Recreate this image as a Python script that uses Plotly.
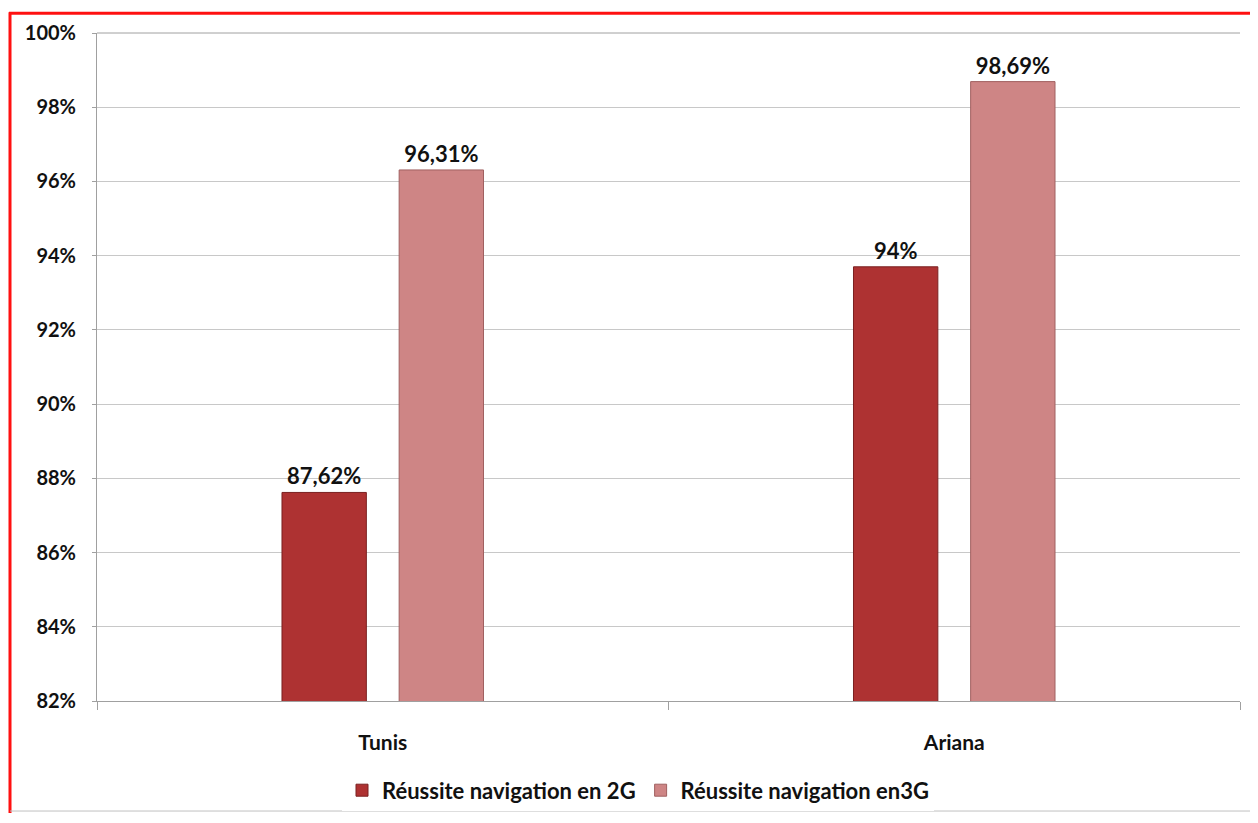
import plotly.graph_objects as go

categories = ["Tunis", "Ariana"]
series_names = ["Réussite navigation en 2G", "Réussite navigation en3G"]
values_2g = [87.62, 93.7]
values_3g = [96.31, 98.69]
labels_2g = ["87,62%", "94%"]
labels_3g = ["96,31%", "98,69%"]
y_ticks = [82, 84, 86, 88, 90, 92, 94, 96, 98, 100]
y_tick_text = [f"{v}%" for v in y_ticks]

OFF = 8  # page body margin
W, H = 1258 - OFF, 823 - OFF
PL, PR, PT, PB = 97, 1240, 29, 709  # plot area in page pixels
L, R, T, B = PL - OFF, 1258 - PR, PT - OFF, 823 - PB
pw, ph = PR - PL, PB - PT

def px(x):
    return (x - PL) / pw

def py(y):
    return (PB - y) / ph

FONT = "Lato, 'Open Sans', Arial, sans-serif"

fig = go.Figure()
fig.add_trace(go.Bar(
    x=categories, y=values_2g, name=series_names[0],
    text=labels_2g, textposition="outside", cliponaxis=False,
    textfont=dict(size=22, color="#111111", family=FONT, weight="bold"),
    marker=dict(color="#AE3232", line=dict(color="#7A2020", width=1)),
))
fig.add_trace(go.Bar(
    x=categories, y=values_3g, name=series_names[1],
    text=labels_3g, textposition="outside", cliponaxis=False,
    textfont=dict(size=22, color="#111111", family=FONT, weight="bold"),
    marker=dict(color="#CE8585", line=dict(color="#A06060", width=1)),
))

fig.update_layout(
    width=W, height=H,
    margin=dict(l=L, r=R, t=T, b=B, pad=0),
    paper_bgcolor="white", plot_bgcolor="white",
    barmode="group", bargap=0.59, bargroupgap=0.28,
    font=dict(family=FONT, size=20, color="#111111"),
    showlegend=True,
    legend=dict(orientation="h", x=px(638), xanchor="center", y=py(800), yanchor="middle",
                font=dict(size=22, family=FONT, weight="bold"), traceorder="normal",
                itemwidth=30),
    xaxis=dict(
        showline=True, linecolor="#A0A0A0", linewidth=1,
        ticks="outside", tickson="boundaries", ticklen=8, tickcolor="#A0A0A0",
        tickfont=dict(size=21, family=FONT, weight="bold"),
        ticklabelstandoff=23, showgrid=False,
    ),
    yaxis=dict(
        range=[82, 100], tickvals=y_ticks, ticktext=y_tick_text,
        showline=True, linecolor="#A0A0A0", linewidth=1,
        ticks="outside", ticklen=4, tickcolor="#A0A0A0",
        showgrid=True, gridcolor="#C8C8C8", gridwidth=1,
        tickfont=dict(size=20, family=FONT, weight="bold"),
        ticklabelstandoff=12, zeroline=False,
    ),
    shapes=[
        dict(type="line", xref="paper", yref="paper", x0=px(10), x1=px(10), y0=py(8), y1=py(823),
             line=dict(color="#FF1010", width=3)),
        dict(type="line", xref="paper", yref="paper", x0=px(9), x1=px(1256), y0=py(9), y1=py(9),
             line=dict(color="#FF1010", width=3)),
        dict(type="line", xref="paper", yref="paper", x0=px(1256), x1=px(1256), y0=py(9), y1=py(822),
             line=dict(color="#A0A0A0", width=1)),
        dict(type="line", xref="paper", yref="paper", x0=px(10), x1=px(1256), y0=py(821), y1=py(821),
             line=dict(color="#C0C0C0", width=1)),
        dict(type="line", xref="paper", yref="paper", x0=0, x1=1, y0=1, y1=1,
             line=dict(color="#A0A0A0", width=1)),
    ],
)

fig.write_html("out.html")
